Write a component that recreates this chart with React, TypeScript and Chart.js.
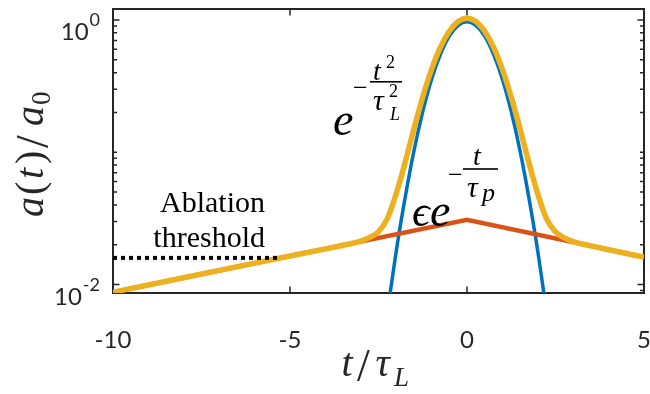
import { useEffect, useRef } from "react";
import { Chart, registerables } from "chart.js";

Chart.register(...registerables);

// ---- data ----
// Gaussian pulse e^{-t^2/tau_L^2} (blue)
const gaussT = [-2.25, -2, -1.75, -1.5, -1.25, -1, -0.75, -0.5, -0.25, 0, 0.25, 0.5, 0.75, 1, 1.25, 1.5, 1.75, 2, 2.25];
const gaussA = [0.0061, 0.0178, 0.045, 0.102, 0.203, 0.357, 0.55, 0.755, 0.91, 0.97, 0.91, 0.755, 0.55, 0.357, 0.203, 0.102, 0.045, 0.0178, 0.0061];
// pedestal eps*e^{-|t|/tau_p} (red)
const pedestalT = [-10, 0, 5];
const pedestalA = [0.00875, 0.0308, 0.0161];
// total pulse (yellow)
const totalT = [-10, -6, -4, -3.5, -3, -2.75, -2.5, -2.25, -2, -1.75, -1.5, -1.25, -1, -0.75, -0.5, -0.25, 0, 0.25, 0.5, 0.75, 1, 1.25, 1.5, 1.75, 2, 2.25, 2.5, 2.75, 3, 3.5, 4, 5];
const totalA = [0.00875, 0.0145, 0.0186, 0.0198, 0.0213, 0.0227, 0.025, 0.0315, 0.0486, 0.0834, 0.15, 0.262, 0.423, 0.622, 0.822, 0.974, 1.031, 0.973, 0.822, 0.622, 0.423, 0.261, 0.15, 0.0832, 0.0483, 0.0313, 0.025, 0.0225, 0.0211, 0.0196, 0.0183, 0.0161];
// ablation threshold (dotted)
const thresholdT = [-10, -5.3];
const thresholdA = [0.0159, 0.0159];

// axes
const xRange = [-10, 5];
const yRange = [0.008627, 1.211];
const xTicks = [-10, -5, 0, 5];
const yTickExps = [0, -2];

const SERIF = '"Liberation Serif", "DejaVu Serif", serif';
const SANS = 'Lato, "Open Sans", sans-serif';
const AXIS_COLOR = "#262626";

const pts = (xs: number[], ys: number[]) => xs.map((x, i) => ({ x, y: ys[i] }));

function txt(ctx: CanvasRenderingContext2D, s: string, x: number, y: number, font: string, align: CanvasTextAlign = "left") {
  ctx.font = font;
  ctx.textAlign = align;
  ctx.fillText(s, x, y);
}

const axesPlugin = {
  id: "matlabAxes",
  beforeDatasetsDraw(chart: any) {
    const { ctx, chartArea: a, scales } = chart;
    const x = scales.x;
    const y = scales.y;
    ctx.save();
    ctx.strokeStyle = AXIS_COLOR;
    ctx.lineWidth = 1.5;
    ctx.beginPath();
    for (const v of xTicks) {
      const px = x.getPixelForValue(v);
      ctx.moveTo(px, a.bottom);
      ctx.lineTo(px, a.bottom - 6.5);
      ctx.moveTo(px, a.top);
      ctx.lineTo(px, a.top + 6.5);
    }
    for (let n = -3; n <= 0; n++) {
      for (let k = 1; k <= 9; k++) {
        const v = k * Math.pow(10, n);
        if (v < y.min || v > y.max) continue;
        const major = yTickExps.some((e) => Math.abs(Math.log10(v) - e) < 1e-9);
        const len = major ? 6.5 : 4;
        const py = y.getPixelForValue(v);
        ctx.moveTo(a.left, py);
        ctx.lineTo(a.left + len, py);
        ctx.moveTo(a.right, py);
        ctx.lineTo(a.right - len, py);
      }
    }
    ctx.stroke();
    ctx.lineWidth = 2;
    ctx.strokeRect(a.left, a.top, a.right - a.left, a.bottom - a.top);
    ctx.restore();
  },
  afterDraw(chart: any) {
    const { ctx, scales } = chart;
    const x = scales.x;
    const y = scales.y;
    ctx.save();
    ctx.textBaseline = "alphabetic";
    ctx.fillStyle = AXIS_COLOR;

    // x tick labels
    for (const v of xTicks) {
      txt(ctx, String(v), x.getPixelForValue(v), 347.5, `24px ${SANS}`, "center");
    }
    // y tick labels 10^n
    for (const e of yTickExps) {
      const py = y.getPixelForValue(Math.pow(10, e));
      ctx.font = `18px ${SANS}`;
      const sup = String(e);
      const supX = 100 - ctx.measureText(sup).width;
      txt(ctx, sup, supX, py + 6, `18px ${SANS}`, "left");
      txt(ctx, "10", supX - 1, py + 20.5, `24px ${SANS}`, "right");
    }

    // x axis label t/tau_L
    txt(ctx, "t", 341.5, 375.7, `italic 40px ${SERIF}`);
    txt(ctx, "/", 357, 381, `46px ${SERIF}`);
    txt(ctx, "τ", 375.5, 375.7, `italic 40px ${SERIF}`);
    txt(ctx, "L", 394, 386, `italic 27px ${SERIF}`);

    // y axis label a(t)/a_0 (rotated)
    ctx.save();
    ctx.translate(43, 217);
    ctx.rotate(-Math.PI / 2);
    txt(ctx, "a", 0, 0, `italic 40px ${SERIF}`);
    txt(ctx, "(", 22, 0, `40px ${SERIF}`);
    txt(ctx, "t", 38, 0, `italic 40px ${SERIF}`);
    txt(ctx, ")", 53, 0, `40px ${SERIF}`);
    txt(ctx, "/", 69, 5, `46px ${SERIF}`);
    txt(ctx, "a", 91, 0, `italic 40px ${SERIF}`);
    txt(ctx, "0", 112, 7, `27px ${SERIF}`);
    ctx.restore();

    // annotations
    ctx.fillStyle = "#000000";
    txt(ctx, "Ablation", 265, 211.7, `30px ${SERIF}`, "right");
    txt(ctx, "threshold", 265, 246.7, `30px ${SERIF}`, "right");

    // e^{-t^2/tau_L^2}
    txt(ctx, "e", 333, 135, `italic 46px ${SERIF}`);
    txt(ctx, "−", 353, 95.5, `26px ${SERIF}`);
    ctx.fillRect(370, 81, 32, 1.6);
    txt(ctx, "t", 373, 80, `italic 28px ${SERIF}`);
    txt(ctx, "2", 386, 68, `18px ${SERIF}`);
    txt(ctx, "τ", 373, 110, `italic 30px ${SERIF}`);
    txt(ctx, "2", 389, 97, `18px ${SERIF}`);
    txt(ctx, "L", 390, 120, `italic 18px ${SERIF}`);

    // eps e^{-t/tau_p}
    txt(ctx, "ϵ", 412, 226, `italic 44px ${SERIF}`);
    txt(ctx, "e", 430, 226, `italic 46px ${SERIF}`);
    txt(ctx, "−", 448, 183, `26px ${SERIF}`);
    ctx.fillRect(463, 168.2, 35, 1.6);
    txt(ctx, "t", 473, 165, `italic 28px ${SERIF}`);
    txt(ctx, "τ", 467, 197, `italic 30px ${SERIF}`);
    txt(ctx, "p", 482, 201, `italic 26px ${SERIF}`);

    ctx.restore();
  },
};

export default function App() {
  const ref = useRef<HTMLCanvasElement | null>(null);
  useEffect(() => {
    document.body.style.margin = "0";
    const canvas = ref.current;
    if (!canvas) return;
    const chart = new Chart(canvas, {
      type: "line",
      data: {
        datasets: [
          {
            data: pts(thresholdT, thresholdA),
            borderColor: "#000000",
            borderWidth: 4,
            borderDash: [4, 4],
            borderCapStyle: "butt",
            pointRadius: 0,
            tension: 0,
            order: 0,
          },
          {
            data: pts(totalT, totalA),
            borderColor: "#EDB120",
            borderWidth: 5.5,
            pointRadius: 0,
            cubicInterpolationMode: "monotone",
            order: 1,
          },
          {
            data: pts(pedestalT, pedestalA),
            borderColor: "#D95319",
            borderWidth: 4.5,
            pointRadius: 0,
            tension: 0,
            order: 2,
          },
          {
            data: pts(gaussT, gaussA),
            borderColor: "#0072BD",
            borderWidth: 3.5,
            pointRadius: 0,
            cubicInterpolationMode: "monotone",
            clip: 0,
            order: 3,
          },
        ],
      } as any,
      options: {
        animation: false,
        responsive: false,
        maintainAspectRatio: false,
        events: [],
        layout: { padding: { left: 113, top: 9, right: 6, bottom: 101 } },
        plugins: { legend: { display: false }, tooltip: { enabled: false } },
        scales: {
          x: { type: "linear", min: xRange[0], max: xRange[1], display: false },
          y: { type: "logarithmic", min: yRange[0], max: yRange[1], display: false },
        },
      } as any,
      plugins: [axesPlugin],
    });
    return () => chart.destroy();
  }, []);
  return (
    <div style={{ width: 650, height: 394, background: "#ffffff" }}>
      <canvas ref={ref} width={650} height={394} style={{ display: "block" }} />
    </div>
  );
}
